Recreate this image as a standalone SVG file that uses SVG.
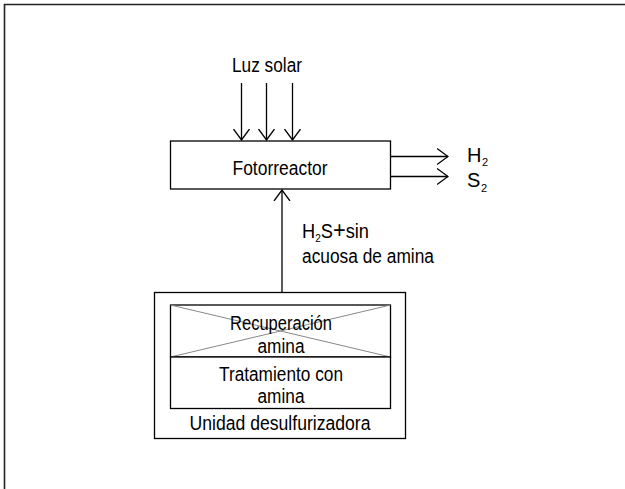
<svg xmlns="http://www.w3.org/2000/svg" width="625" height="489" viewBox="0 0 625 489">
<defs>
<style>
.ln{stroke:#000;stroke-width:1.3;fill:none}
.bx{stroke:#000;stroke-width:1.3;fill:#fff}
.frame{stroke:#222;stroke-width:1.6;fill:none}
.tx{font-family:"Liberation Sans",Arial,sans-serif;font-size:20px;fill:#000}
.c{text-anchor:middle}
.sub{font-size:11px}
</style>
<marker id="ah" viewBox="0 0 12 18" refX="11" refY="9" markerWidth="12" markerHeight="18" markerUnits="userSpaceOnUse" orient="auto">
<path d="M0,1 L11,9 L0,17" fill="none" stroke="#000" stroke-width="1.3"/>
</marker>
</defs>
<rect width="625" height="489" fill="#fff"/>
<path class="frame" d="M4.5,489 V4.5 H625"/>
<g id="connectors">
<line class="ln" x1="241.5" y1="83" x2="241.5" y2="140" marker-end="url(#ah)"/>
<line class="ln" x1="266.5" y1="83" x2="266.5" y2="140" marker-end="url(#ah)"/>
<line class="ln" x1="292.5" y1="83" x2="292.5" y2="140" marker-end="url(#ah)"/>
<line class="ln" x1="390" y1="156.5" x2="448" y2="156.5" marker-end="url(#ah)"/>
<line class="ln" x1="390" y1="176.5" x2="448" y2="176.5" marker-end="url(#ah)"/>
<line class="ln" x1="282" y1="305" x2="282" y2="190" marker-end="url(#ah)"/>
</g>
<g id="luz-solar">
<text class="tx c" x="267" y="72" textLength="70" lengthAdjust="spacingAndGlyphs">Luz solar</text>
</g>
<g id="fotorreactor">
<rect class="bx" x="170.5" y="141" width="220" height="48"/>
<text class="tx c" x="280" y="175" textLength="95" lengthAdjust="spacingAndGlyphs">Fotorreactor</text>
</g>
<g id="h2">
<text class="tx" x="467" y="162">H<tspan class="sub" x="482" dy="4">2</tspan></text>
</g>
<g id="s2">
<text class="tx" x="467" y="187">S<tspan class="sub" x="481" dy="5">2</tspan></text>
</g>
<g id="label-h2s">
<text class="tx" x="302" y="238" textLength="67" lengthAdjust="spacingAndGlyphs">H<tspan class="sub" dy="4">2</tspan><tspan dy="-4">S</tspan><tspan font-size="24">+</tspan>sin</text>
<text class="tx" x="302" y="263" textLength="132" lengthAdjust="spacingAndGlyphs">acuosa de amina</text>
</g>
<g id="unidad-desulfurizadora">
<rect class="bx" x="154.5" y="292.5" width="251" height="146"/>
<text class="tx c" x="280" y="430" textLength="181" lengthAdjust="spacingAndGlyphs">Unidad desulfurizadora</text>
</g>
<g id="recuperacion-amina">
<rect class="bx" x="170.5" y="305" width="220" height="52"/>
<path d="M170.5,305 L390.5,357 M170.5,357 L390.5,305" stroke="#888" stroke-width="1" fill="none"/>
<text class="tx c" x="281" y="330" textLength="102" lengthAdjust="spacingAndGlyphs">Recuperación</text>
<text class="tx c" x="281" y="353" textLength="47" lengthAdjust="spacingAndGlyphs">amina</text>
</g>
<g id="tratamiento-amina">
<rect class="bx" x="170.5" y="357" width="220" height="51.5"/>
<text class="tx c" x="281" y="381" textLength="124" lengthAdjust="spacingAndGlyphs">Tratamiento con</text>
<text class="tx c" x="281" y="403" textLength="47" lengthAdjust="spacingAndGlyphs">amina</text>
</g>
</svg>
